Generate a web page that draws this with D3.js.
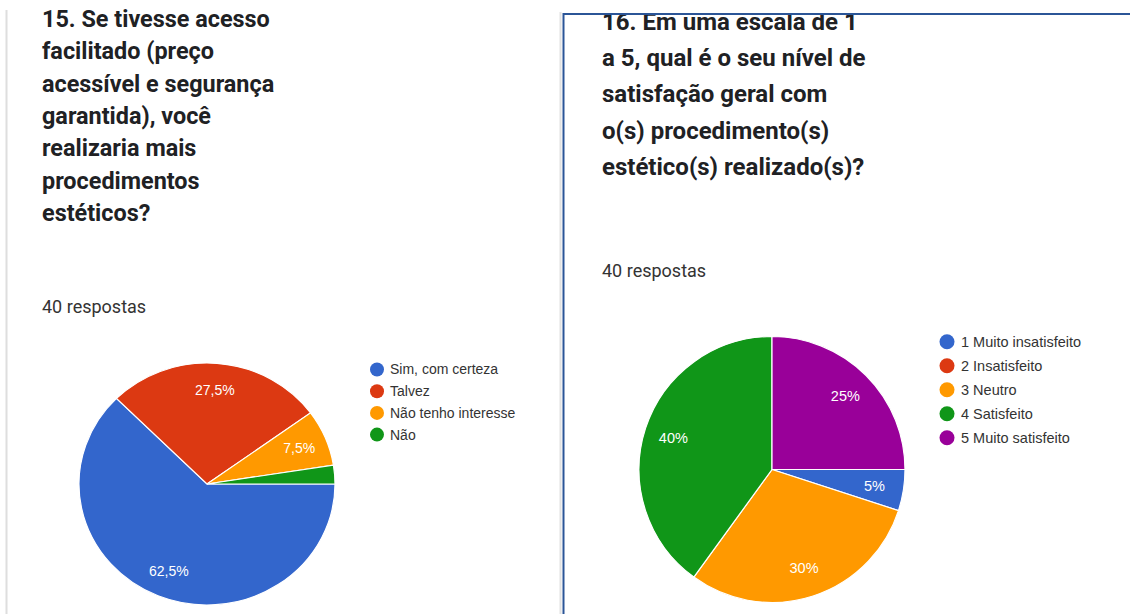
<!DOCTYPE html>
<html>
<head>
<meta charset="utf-8">
<script src="https://cdn.jsdelivr.net/npm/d3@7"></script>
<style>
  body { margin: 0; background: #fff; }
  svg { display: block; }
</style>
</head>
<body>
<svg id="chart" width="1130" height="614"></svg>
<script>
// dados - pergunta 15
var q15Title = ["15. Se tivesse acesso", "facilitado (preço", "acessível e segurança",
  "garantida), você", "realizaria mais", "procedimentos", "estéticos?"];
var q15Labels = ["Sim, com certeza", "Talvez", "Não tenho interesse", "Não"];
var q15Counts = [25, 11, 3, 1];

// dados - pergunta 16
var q16Title = ["16. Em uma escala de 1", "a 5, qual é o seu nível de", "satisfação geral com",
  "o(s) procedimento(s)", "estético(s) realizado(s)?"];
var q16Labels = ["1 Muito insatisfeito", "2 Insatisfeito", "3 Neutro", "4 Satisfeito", "5 Muito satisfeito"];
var q16Counts = [2, 0, 12, 16, 10];

var respostas = "40 respostas";
var cores = ["#3366cc", "#dc3912", "#ff9900", "#109618", "#990099"];

var svg = d3.select("#chart");
var pt = d3.formatLocale({decimal: ",", thousands: ".", grouping: [3], currency: ["R$", ""]});
var fmt = pt.format(".1~f");

// moldura dos cartões
svg.append("line").attr("x1", 6.5).attr("x2", 6.5).attr("y1", 10).attr("y2", 614)
  .attr("stroke", "#dedede").attr("stroke-width", 2);
svg.append("line").attr("x1", 560.5).attr("x2", 560.5).attr("y1", 12).attr("y2", 614)
  .attr("stroke", "#e2e2e2").attr("stroke-width", 2);

function titulo(linhas, x, y0, passo, tam) {
  svg.append("g").selectAll("text")
    .data(linhas)
    .enter().append("text")
    .attr("x", x)
    .attr("y", function(d, i) { return y0 + i * passo; })
    .attr("font-family", "Roboto, sans-serif")
    .attr("font-weight", "bold")
    .attr("font-size", tam)
    .attr("fill", "#202124")
    .text(function(d) { return d; });
}

function pizza(contagens, nomes, cx, cy, r, sy, leg) {
  var total = d3.sum(contagens);
  var dados = contagens.map(function(v, i) { return {nome: nomes[i], valor: v, cor: cores[i]}; });
  var pie = d3.pie().sort(null).value(function(d) { return d.valor; })
    .startAngle(Math.PI / 2).endAngle(Math.PI / 2 + 2 * Math.PI);
  var arcos = pie(dados).filter(function(a) { return a.data.valor > 0; });
  var arc = d3.arc().innerRadius(0).outerRadius(r);
  var rot = d3.arc().innerRadius(r * 0.78).outerRadius(r * 0.78);

  var g = svg.append("g").attr("transform", "translate(" + cx + "," + cy + ")");
  g.append("g").attr("transform", "scale(1," + sy + ")")
    .selectAll("path")
    .data(arcos)
    .enter().append("path")
    .attr("d", arc)
    .attr("fill", function(d) { return d.data.cor; })
    .attr("stroke", "#fff")
    .attr("stroke-width", 1.2);

  g.selectAll("text.pct")
    .data(arcos.filter(function(a) { return a.data.valor / total >= 0.04; }))
    .enter().append("text")
    .attr("class", "pct")
    .attr("x", function(d) { return rot.centroid(d)[0]; })
    .attr("y", function(d) { return rot.centroid(d)[1] * sy; })
    .attr("text-anchor", "middle")
    .attr("dy", "0.35em")
    .attr("font-family", "'Liberation Sans', Arial, sans-serif")
    .attr("font-size", leg.fs)
    .attr("fill", "#fff")
    .text(function(d) { return fmt(d.data.valor / total * 100) + "%"; });

  // legenda
  var ly = d3.scalePoint().domain(nomes).range([leg.y, leg.y + leg.passo * (nomes.length - 1)]);
  var lg = svg.append("g").selectAll("g")
    .data(dados)
    .enter().append("g")
    .attr("transform", function(d) { return "translate(" + leg.x + "," + ly(d.nome) + ")"; });
  lg.append("circle").attr("r", leg.cr).attr("fill", function(d) { return d.cor; });
  lg.append("text")
    .attr("x", leg.dx)
    .attr("dy", "0.35em")
    .attr("font-family", "'Liberation Sans', Arial, sans-serif")
    .attr("font-size", leg.fs)
    .attr("fill", "#333")
    .text(function(d) { return d.nome; });
}

// pergunta 15
titulo(q15Title, 42, 27, 32.3, 23.4);
svg.append("text").attr("x", 42).attr("y", 313)
  .attr("font-family", "Roboto, sans-serif").attr("font-size", 18).attr("fill", "#333")
  .text(respostas);
pizza(q15Counts, q15Labels, 207, 484, 128, 0.945, {x: 377, y: 369.5, passo: 21.7, cr: 7, dx: 13, fs: 14});

// pergunta 16
titulo(q16Title, 602, 29.5, 36.4, 24);
svg.append("text").attr("x", 602).attr("y", 277)
  .attr("font-family", "Roboto, sans-serif").attr("font-size", 18).attr("fill", "#333")
  .text(respostas);
pizza(q16Counts, q16Labels, 772, 469.5, 133, 1, {x: 947, y: 341.7, passo: 24, cr: 7.5, dx: 14, fs: 14.5});

// borda azul por cima do título
svg.append("rect").attr("x", 562).attr("y", 0).attr("width", 568).attr("height", 13).attr("fill", "#fff");
svg.append("path")
  .attr("d", "M563.5,614 V14 H1130")
  .attr("fill", "none")
  .attr("stroke", "#2b5597")
  .attr("stroke-width", 2);
</script>
</body>
</html>
